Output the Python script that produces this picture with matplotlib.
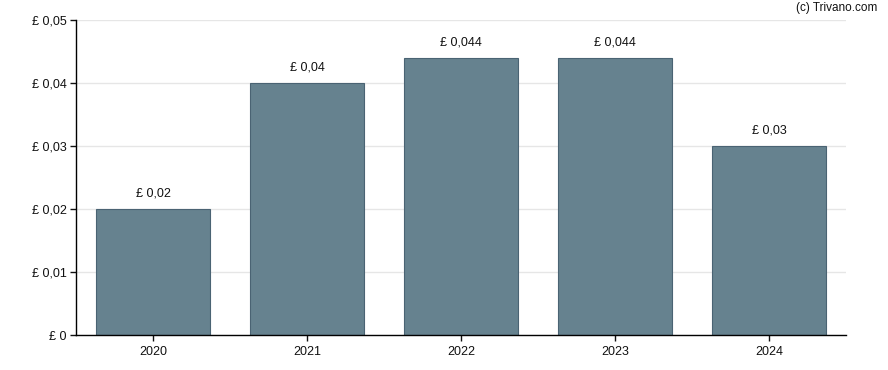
import matplotlib
matplotlib.use("Agg")
import matplotlib.pyplot as plt

years = ["2020", "2021", "2022", "2023", "2024"]
values = [0.02, 0.04, 0.044, 0.044, 0.03]
labels = ["£ 0,02", "£ 0,04", "£ 0,044", "£ 0,044", "£ 0,03"]
yticks = [0, 0.01, 0.02, 0.03, 0.04, 0.05]
ytick_labels = ["£ 0", "£ 0,01", "£ 0,02", "£ 0,03", "£ 0,04", "£ 0,05"]

plt.rcParams['font.family'] = ['Liberation Sans', 'DejaVu Sans']

fig = plt.figure(figsize=(8.88, 3.70), dpi=100)
ax = fig.add_axes([76/888, 1 - 335/370, (846-76)/888, (335-20)/370])

x = range(len(years))
ax.bar(x, values, width=0.74, color="#66828f", edgecolor="#4a6373", linewidth=0.8, zorder=2)
for xi, v, lab in zip(x, values, labels):
    ax.annotate(lab, (xi, v), xytext=(0, 7), textcoords="offset points",
                ha="center", va="bottom", fontsize=9, color="#111111")

ax.set_xlim(-0.5, 4.5)
ax.set_ylim(0, 0.05)
ax.set_yticks(yticks)
ax.set_yticklabels(ytick_labels)
ax.set_xticks(list(x))
ax.set_xticklabels(years)
ax.tick_params(axis="both", labelsize=9, colors="#111111", length=4, width=1, pad=2.5)
ax.tick_params(axis="x", pad=4)
ax.yaxis.grid(True, color="#e6e6e6", linewidth=1, zorder=0)
ax.set_axisbelow(True)
for s in ["top", "right"]:
    ax.spines[s].set_visible(False)
for s in ["left", "bottom"]:
    ax.spines[s].set_color("black")
    ax.spines[s].set_linewidth(1)

fig.text(877/888, 1 - 8/370, "(c) Trivano.com", ha="right", va="center", fontsize=8.5, color="#111111")

fig.savefig("out.png", dpi=100)
